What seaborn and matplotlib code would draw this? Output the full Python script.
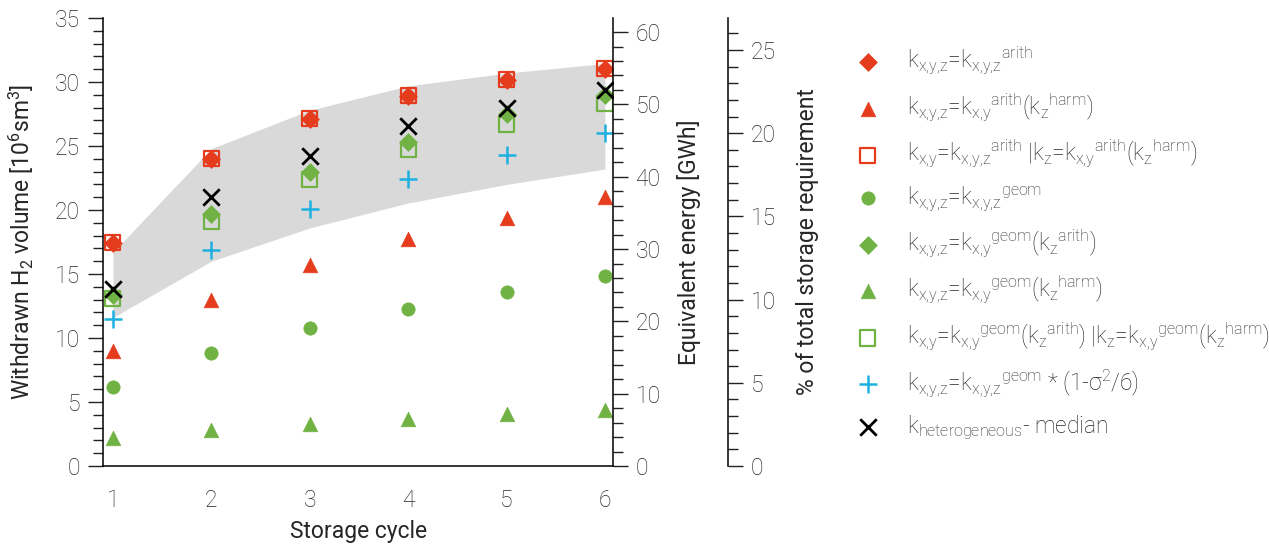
import matplotlib
matplotlib.use("Agg")
import matplotlib.pyplot as plt
import seaborn as sns
from matplotlib.ticker import MultipleLocator

# ---------------- data ----------------
cycles = [1, 2, 3, 4, 5, 6]
k_arith = [17.45, 24.0, 27.1, 28.9, 30.15, 31.0]          # red diamond
k_arith_harm = [9.0, 13.0, 15.7, 17.7, 19.4, 21.0]        # red triangle
k_arith_split = [17.45, 24.05, 27.15, 28.95, 30.2, 31.05]  # red open square
k_geom = [6.2, 8.8, 10.75, 12.3, 13.6, 14.85]             # green circle
k_geom_arith = [13.4, 19.7, 23.0, 25.35, 27.5, 29.0]      # green diamond
k_geom_harm = [2.2, 2.8, 3.3, 3.7, 4.05, 4.35]            # green triangle
k_geom_split = [13.1, 19.1, 22.4, 24.75, 26.7, 28.3]      # green open square
k_geom_sigma = [11.5, 16.9, 20.1, 22.4, 24.3, 26.0]       # cyan plus
k_het_median = [13.8, 21.05, 24.25, 26.6, 28.0, 29.4]     # black x
band_upper = [16.7, 24.8, 27.8, 29.7, 30.7, 31.45]
band_lower = [11.6, 16.0, 18.6, 20.55, 22.0, 23.2]

XYZ = r"x{,}y{,}z"
XY = r"x{,}y"
labels = [
    rf"$\mathregular{{k_{{{XYZ}}}}}$=$\mathregular{{k_{{{XYZ}}}{{}}^{{arith}}}}$",
    rf"$\mathregular{{k_{{{XYZ}}}}}$=$\mathregular{{k_{{{XY}}}{{}}^{{arith}}(k_z{{}}^{{harm}})}}$",
    rf"$\mathregular{{k_{{{XY}}}}}$=$\mathregular{{k_{{{XYZ}}}{{}}^{{arith}}}}$ |"
    rf"$\mathregular{{k_z}}$=$\mathregular{{k_{{{XY}}}{{}}^{{arith}}(k_z{{}}^{{harm}})}}$",
    rf"$\mathregular{{k_{{{XYZ}}}}}$=$\mathregular{{k_{{{XYZ}}}{{}}^{{geom}}}}$",
    rf"$\mathregular{{k_{{{XYZ}}}}}$=$\mathregular{{k_{{{XY}}}{{}}^{{geom}}(k_z{{}}^{{arith}})}}$",
    rf"$\mathregular{{k_{{{XYZ}}}}}$=$\mathregular{{k_{{{XY}}}{{}}^{{geom}}(k_z{{}}^{{harm}})}}$",
    rf"$\mathregular{{k_{{{XY}}}}}$=$\mathregular{{k_{{{XY}}}{{}}^{{geom}}(k_z{{}}^{{arith}})}}$ |"
    rf"$\mathregular{{k_z}}$=$\mathregular{{k_{{{XY}}}{{}}^{{geom}}(k_z{{}}^{{harm}})}}$",
    rf"$\mathregular{{k_{{{XYZ}}}}}$=$\mathregular{{k_{{{XYZ}}}{{}}^{{geom}}}}$ * (1-σ$\mathregular{{^2}}$/6)",
    r"$\mathregular{k_{heterogeneous}}$- median",
]

Y_MAX = 35
GWH_MAX = 61.94
PCT_MAX = 26.92

RED = "#E63C1E"
GREEN = "#71B244"
CYAN = "#1DB1E0"
GRAY = "#D9D9D9"
TXT = "#262626"

sns.set_theme(style="white")
plt.rcParams["font.family"] = ["Roboto", "DejaVu Sans"]
plt.rcParams["font.weight"] = "light"
plt.rcParams["mathtext.fontset"] = "custom"
plt.rcParams["mathtext.rm"] = "Roboto:light"
plt.rcParams["mathtext.it"] = "Roboto:light"
plt.rcParams["mathtext.bf"] = "Roboto"
plt.rcParams["text.color"] = TXT
plt.rcParams["axes.labelcolor"] = TXT

FS = 16.5

fig = plt.figure(figsize=(12.69, 5.5), dpi=100)
ax = fig.add_axes([0.0812, 0.1527, 0.4021, 0.8145])

ax.fill_between(cycles, band_lower, band_upper, color=GRAY, lw=0, zorder=0)

series = [
    (k_arith, "D", 82, RED, RED, 0.5),
    (k_arith_harm, "^", 110, RED, RED, 0.5),
    (k_arith_split, "s", 120, "none", RED, 1.6),
    (k_geom, "o", 92, GREEN, GREEN, 0.5),
    (k_geom_arith, "D", 82, GREEN, GREEN, 0.5),
    (k_geom_harm, "^", 110, GREEN, GREEN, 0.5),
    (k_geom_split, "s", 120, "none", GREEN, 1.6),
    (k_geom_sigma, "+", 150, CYAN, CYAN, 1.8),
    (k_het_median, "x", 140, "black", "black", 2.0),
]
zorders = [4, 3, 3, 3, 4, 3, 3, 3, 5]

handles = []
for (vals, mk, size, fc, ec, lw), zo in zip(series, zorders):
    n0 = len(ax.collections)
    if mk in ("+", "x"):
        sns.scatterplot(x=cycles, y=vals, ax=ax, marker=mk, s=size, color=ec,
                        linewidth=lw, legend=False, zorder=zo)
    else:
        sns.scatterplot(x=cycles, y=vals, ax=ax, marker=mk, s=size,
                        facecolor=fc, edgecolor=ec, linewidth=lw,
                        legend=False, zorder=zo)
    handles.append(ax.collections[n0])

ax.set_xlim(0.9, 6.085)
ax.set_ylim(0, Y_MAX)
ax.set_xticks(cycles)
ax.yaxis.set_major_locator(MultipleLocator(5))
ax.yaxis.set_minor_locator(MultipleLocator(1))

ax.spines["top"].set_visible(False)
ax.spines["right"].set_visible(False)
for s in ("left", "bottom"):
    ax.spines[s].set_color("black")
    ax.spines[s].set_linewidth(1.1)

ax.tick_params(axis="both", which="major", direction="out", length=11, width=1.0,
               pad=5.5, labelsize=FS, colors="#222222", labelcolor=TXT)
ax.tick_params(axis="y", which="minor", direction="out", length=7, width=1.0,
               colors="#222222", left=True)
ax.tick_params(axis="x", which="minor", bottom=False)

ax.set_xlabel("Storage cycle", fontsize=FS)
ax.set_ylabel(r"Withdrawn H$\mathregular{_2}$ volume [10$\mathregular{^6}$sm$\mathregular{^3}$]",
              fontsize=FS)
ax.xaxis.set_label_coords(0.5, -0.12)
ax.yaxis.set_label_coords(-0.132, 0.5)

# second axis: equivalent energy
ax2 = ax.twinx()
ax2.set_ylim(0, GWH_MAX)
ax2.yaxis.set_major_locator(MultipleLocator(10))
ax2.yaxis.set_minor_locator(MultipleLocator(2))
# third axis: % of total storage requirement
ax3 = ax.twinx()
ax3.set_ylim(0, PCT_MAX)
ax3.yaxis.set_major_locator(MultipleLocator(5))
ax3.yaxis.set_minor_locator(MultipleLocator(1))
ax3.spines["right"].set_position(("axes", 1.2254))

for a in (ax2, ax3):
    for s in ("top", "left", "bottom"):
        a.spines[s].set_visible(False)
    a.spines["right"].set_color("black")
    a.spines["right"].set_linewidth(1.1)
    a.tick_params(axis="y", which="major", direction="out", length=11, width=1.0,
                  pad=5.0, labelsize=FS, colors="#222222", labelcolor=TXT)
    a.tick_params(axis="y", which="minor", direction="out", length=7, width=1.0,
                  colors="#222222", right=True)
    a.grid(False)

ax2.set_ylabel("Equivalent energy [GWh]", fontsize=FS)
ax2.yaxis.set_label_coords(1.1248, 0.5)
ax3.set_ylabel("% of total storage requirement", fontsize=FS)
ax3.yaxis.set_label_coords(1.358, 0.5)
ax.grid(False)

fig.legend(handles, labels, loc="upper left", bbox_to_anchor=(0.6747, 0.918),
           frameon=False, fontsize=FS, handlelength=1.0, handletextpad=1.2,
           labelspacing=0.63, borderpad=0, borderaxespad=0, scatterpoints=1)

fig.savefig("out.png", dpi=100)
